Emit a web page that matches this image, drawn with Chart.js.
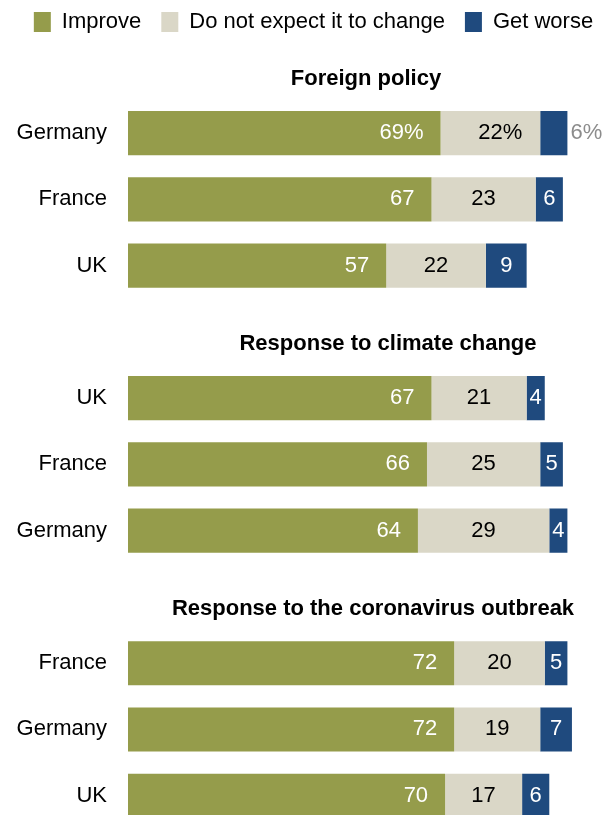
<!DOCTYPE html>
<html>
<head>
<meta charset="utf-8">
<script src="https://cdn.jsdelivr.net/npm/chart.js@4.4.0/dist/chart.umd.min.js"></script>
<style>
  html, body { margin: 0; padding: 0; background: #fff; overflow: hidden; }
  #chart { position: absolute; left: 0; top: -9px; }
</style>
</head>
<body>
<canvas id="chart" width="610" height="872"></canvas>
<script>
// rows of the chart, blank rows separate the three topics
const rowLabels = ['Germany', 'France', 'UK', '', 'UK', 'France', 'Germany', '', 'France', 'Germany', 'UK'];
const improve  = [69, 67, 57, null, 67, 66, 64, null, 72, 72, 70];
const noChange = [22, 23, 22, null, 21, 25, 29, null, 20, 19, 17];
const worse    = [6, 6, 9, null, 4, 5, 4, null, 5, 7, 6];

const groupTitles = ['Foreign policy', 'Response to climate change', 'Response to the coronavirus outbreak'];
const groupFirstRow = [0, 4, 8];

const seriesNames = ['Improve', 'Do not expect it to change', 'Get worse'];
const seriesColors = ['#959c4b', '#dad7c7', '#1f4a7e'];

const FONT = '"Liberation Sans", Arial, sans-serif';
const titleX = [366, 388, 373];   // centre of each topic heading

// legend on one line, extra room below it, centred at x=313
const legendTweak = {
  id: 'legendTweak',
  beforeInit(chart) {
    const lg = chart.legend;
    if (!lg) return;
    const fit = lg.fit;
    lg.fit = function () {
      this.maxWidth = Math.max(this.maxWidth, 800);
      fit.call(this);
      this.height += 57;
    };
    const draw = lg.draw;
    lg.draw = function (area) {
      const l = this.left, r = this.right;
      this.left = 0;
      this.right = 627;
      draw.call(this, area);
      this.left = l;
      this.right = r;
    };
  }
};

const groupHeadings = {
  id: 'groupHeadings',
  afterDraw(chart) {
    const ctx = chart.ctx;
    const y = chart.scales.y;
    ctx.save();
    ctx.font = 'bold 22px ' + FONT;
    ctx.fillStyle = '#000';
    ctx.textAlign = 'center';
    ctx.textBaseline = 'alphabetic';
    groupTitles.forEach((t, i) => {
      ctx.fillText(t, titleX[i], y.getPixelForValue(groupFirstRow[i]) - 48);
    });
    ctx.restore();
  }
};

const barLabels = {
  id: 'barLabels',
  afterDatasetsDraw(chart) {
    const ctx = chart.ctx;
    ctx.save();
    ctx.font = '22px ' + FONT;
    ctx.textBaseline = 'middle';
    chart.data.datasets.forEach((ds, di) => {
      const meta = chart.getDatasetMeta(di);
      meta.data.forEach((bar, i) => {
        const v = ds.data[i];
        if (v == null) return;
        const num = String(v);
        const pct = i === 0 ? '%' : '';
        const left = Math.min(bar.base, bar.x);
        const right = Math.max(bar.base, bar.x);
        const y = bar.y;
        if (di === 0) {
          ctx.fillStyle = '#fff';
          ctx.textAlign = 'right';
          ctx.fillText(num + pct, right - 17, y);
        } else if (di === 1) {
          ctx.fillStyle = '#000';
          ctx.textAlign = 'left';
          const w = ctx.measureText(num).width;
          ctx.fillText(num + pct, (left + right) / 2 - w / 2, y);
        } else {
          const txt = num + pct;
          const w = ctx.measureText(txt).width;
          if (w > right - left - 2) {
            ctx.fillStyle = '#8c8c8c';
            ctx.textAlign = 'left';
            ctx.fillText(txt, right + 3, y);
          } else {
            ctx.fillStyle = '#fff';
            ctx.textAlign = 'center';
            ctx.fillText(txt, (left + right) / 2, y);
          }
        }
      });
    });
    ctx.restore();
  }
};

new Chart(document.getElementById('chart'), {
  type: 'bar',
  data: {
    labels: rowLabels,
    datasets: [improve, noChange, worse].map((d, k) => ({
      label: seriesNames[k],
      data: d,
      backgroundColor: seriesColors[k],
      borderWidth: 0,
      barPercentage: 0.665,
      categoryPercentage: 1
    }))
  },
  options: {
    indexAxis: 'y',
    responsive: false,
    animation: false,
    devicePixelRatio: 1,
    layout: { padding: { left: 0, right: 29, top: 0, bottom: 9 } },
    scales: {
      x: { stacked: true, min: 0, max: 100, display: false },
      y: {
        stacked: true,
        grid: { display: false, drawTicks: false },
        border: { display: false },
        ticks: { padding: 21, color: '#000', font: { size: 22, family: FONT } },
        afterFit: (s) => { s.width = 128; }
      }
    },
    plugins: {
      legend: {
        position: 'top',
        align: 'center',
        labels: {
          boxWidth: 17,
          boxHeight: 20,
          padding: 20,
          color: '#000',
          font: { size: 22, family: FONT }
        }
      },
      tooltip: { enabled: false }
    }
  },
  plugins: [legendTweak, groupHeadings, barLabels]
});
</script>
</body>
</html>
